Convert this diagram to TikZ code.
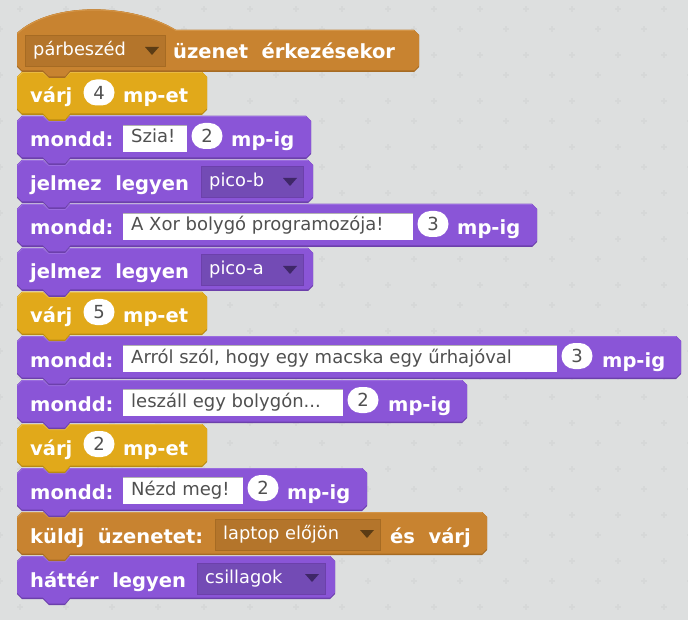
\documentclass[tikz,border=0pt]{standalone}
\usepackage{fontspec}
\setmainfont{DejaVu Sans}
\usepackage[HTML]{xcolor}
\definecolor{pagebg}{HTML}{DDDFDF}
\definecolor{plusmark}{HTML}{D6D8D8}
\definecolor{event}{HTML}{C88330}
\definecolor{eventdark}{HTML}{A66B23}
\definecolor{eventlight}{HTML}{D39548}
\definecolor{eventfield}{HTML}{B4752B}
\definecolor{eventtip}{HTML}{5C3C14}
\definecolor{wait}{HTML}{E1A91A}
\definecolor{waitdark}{HTML}{B98A12}
\definecolor{waitlight}{HTML}{E9BA42}
\definecolor{looks}{HTML}{8A55D7}
\definecolor{looksdark}{HTML}{6C40AB}
\definecolor{lookslight}{HTML}{9A6CDF}
\definecolor{looksfield}{HTML}{734BB5}
\definecolor{lookstip}{HTML}{3F2768}
\definecolor{fieldtxt}{HTML}{505050}
\newcommand{\stack}[3]{% top, right end, colour
\fill[fill=#3dark] (17,#1+5) -- (22,#1) -- (43,#1) -- (49,#1+5) -- (65,#1+5) -- (70,#1) -- (#2-5,#1) -- (#2,#1+5) -- (#2,#1+38) -- (#2-5,#1+43) -- (70,#1+43) -- (65,#1+49) -- (49,#1+49) -- (43,#1+43) -- (22,#1+43) -- (17,#1+38) -- cycle;
\fill[fill=#3] (17,#1+5) -- (22,#1) -- (43,#1) -- (49,#1+5) -- (65,#1+5) -- (70,#1) -- (#2-5,#1) -- (#2,#1+5) -- (#2,#1+36.5) -- (#2-5,#1+41.5) -- (70,#1+41.5) -- (65,#1+47.5) -- (49,#1+47.5) -- (43,#1+41.5) -- (22,#1+41.5) -- (17,#1+36.5) -- cycle;
\draw[draw=#3light,line width=1] (17.5,#1+5.5) -- (22.5,#1+.5) -- (43,#1+.5) -- (49,#1+5.5) -- (65,#1+5.5) -- (70,#1+.5) -- (#2-5,#1+.5);
}
\newcommand{\entrybox}[4]{% left, right, top, text
\fill[white] (#1,#3+9) rectangle (#2,#3+36);
\draw[draw=black!30,line width=1] (#1,#3+9.5) -- (#2,#3+9.5);
\node[entrytxt] at (#1+8,#3+27) {#4};
}
\newcommand{\menubox}[5]{% left, right, top, text, colour
\fill[fill=#5field,draw=#5dark,line width=1] (#1,#3+7) rectangle (#2,#3+38);
\fill[fill=#5tip] (#2-20,#3+18) -- (#2-6,#3+18) -- (#2-13,#3+26) -- cycle;
\node[menutxt] at (#1+8,#3+27) {#4};
}
\tikzset{
  word/.style={text=white,font=\fontsize{19.5}{19.5}\selectfont\bfseries,inner sep=0pt,anchor=base west},
  entrytxt/.style={text=fieldtxt,font=\fontsize{18}{18}\selectfont,inner sep=0pt,anchor=base west},
  numpill/.style={fill=white,text=fieldtxt,font=\fontsize{18}{18}\selectfont,rounded corners=12.9,inner sep=0pt,minimum width=31,minimum height=26,anchor=center},
  menutxt/.style={text=white,font=\fontsize{17.8}{17.8}\selectfont,inner sep=0pt,anchor=base west},
}
\begin{document}
\begin{tikzpicture}[x=1pt,y=-1pt]
\useasboundingbox (0,0) rectangle (688,620);
\fill[pagebg] (0,0) rectangle (688,620);
% background marks
\foreach \i in {0,...,15}
  \foreach \j in {-1,...,13} {
    \fill[plusmark] (46*\i+20-3,46*\j+9-1) rectangle (46*\i+20+3,46*\j+9+1);
    \fill[plusmark] (46*\i+20-1,46*\j+9-3) rectangle (46*\i+20+1,46*\j+9+3);
    \fill[plusmark] (46*\i-3,46*\j+29-1) rectangle (46*\i+3,46*\j+29+1);
    \fill[plusmark] (46*\i-1,46*\j+29-3) rectangle (46*\i+1,46*\j+29+3);
  }
% blocks, lowest first
\stack{556}{335}{looks}
\stack{512}{487}{event}
\stack{468}{367}{looks}
\stack{424}{207}{wait}
\stack{380}{467}{looks}
\stack{336}{681}{looks}
\stack{292}{207}{wait}
\stack{248}{313}{looks}
\stack{204}{537}{looks}
\stack{160}{313}{looks}
\stack{116}{311}{looks}
\stack{72}{207}{wait}
% hat
\fill[eventdark] (17,33) .. controls (50,2) and (130,2) .. (176,30) -- (414,30) -- (419,35) -- (419,67) -- (414,72) -- (70,72) -- (65,78) -- (49,78) -- (43,72) -- (22,72) -- (17,67) -- cycle;
\fill[event] (17,33) .. controls (50,2) and (130,2) .. (176,30) -- (414,30) -- (419,35) -- (419,65.5) -- (414,70.5) -- (70,70.5) -- (65,76.5) -- (49,76.5) -- (43,70.5) -- (22,70.5) -- (17,65.5) -- cycle;
\draw[eventlight,line width=1] (17.5,33.5) .. controls (50,2.7) and (130,2.7) .. (176,30.5) -- (414,30.5);
\menubox{25}{165}{29}{párbeszéd}{event}
\node[word] (hatword) at (173,59) {üzenet\ \ érkezésekor};
% varj 4
\node[word] (waitA) at (30,103) {várj};
\node[numpill] (waitAnum) at (99,92.5) {4};
\node[word] (waitAend) at (123,103) {mp-et};
% mondd Szia
\node[word] (sayA) at (30,147) {mondd:};
\entrybox{123}{187}{116}{Szia!}
\node[numpill] (sayAnum) at (207,136) {2};
\node[word] (sayAend) at (231,147) {mp-ig};
% jelmez b
\node[word] (costA) at (30,191) {jelmez\ \ legyen};
\menubox{201}{303}{160}{pico-b}{looks}
% mondd Xor
\node[word] (sayB) at (30,235) {mondd:};
\entrybox{123}{413}{204}{A Xor bolygó programozója!}
\node[numpill] (sayBnum) at (433,224) {3};
\node[word] (sayBend) at (457,235) {mp-ig};
% jelmez a
\node[word] (costB) at (30,279) {jelmez\ \ legyen};
\menubox{201}{303}{248}{pico-a}{looks}
% varj 5
\node[word] (waitB) at (30,323) {várj};
\node[numpill] (waitBnum) at (99,312) {5};
\node[word] (waitBend) at (123,323) {mp-et};
% mondd Arrol
\node[word] (sayC) at (30,367) {mondd:};
\entrybox{123}{557}{336}{Arról szól, hogy egy macska egy űrhajóval}
\node[numpill] (sayCnum) at (577,356) {3};
\node[word] (sayCend) at (602,367) {mp-ig};
% mondd leszall
\node[word] (sayD) at (30,411) {mondd:};
\entrybox{123}{343}{380}{leszáll egy bolygón...}
\node[numpill] (sayDnum) at (363,400) {2};
\node[word] (sayDend) at (388,411) {mp-ig};
% varj 2
\node[word] (waitC) at (30,455) {várj};
\node[numpill] (waitCnum) at (99,444) {2};
\node[word] (waitCend) at (123,455) {mp-et};
% mondd Nezd
\node[word] (sayE) at (30,499) {mondd:};
\entrybox{123}{243}{468}{Nézd meg!}
\node[numpill] (sayEnum) at (263,488) {2};
\node[word] (sayEend) at (287,499) {mp-ig};
% kuldj
\node[word] (sendA) at (30,543) {küldj\ \ üzenetet:};
\menubox{215}{380}{512}{laptop előjön}{event}
\node[word] (sendAend) at (390,543) {és\ \ várj};
% hatter
\node[word] (backA) at (30,587) {háttér\ \ legyen};
\menubox{197}{325}{556}{csillagok}{looks}
\end{tikzpicture}
\end{document}
